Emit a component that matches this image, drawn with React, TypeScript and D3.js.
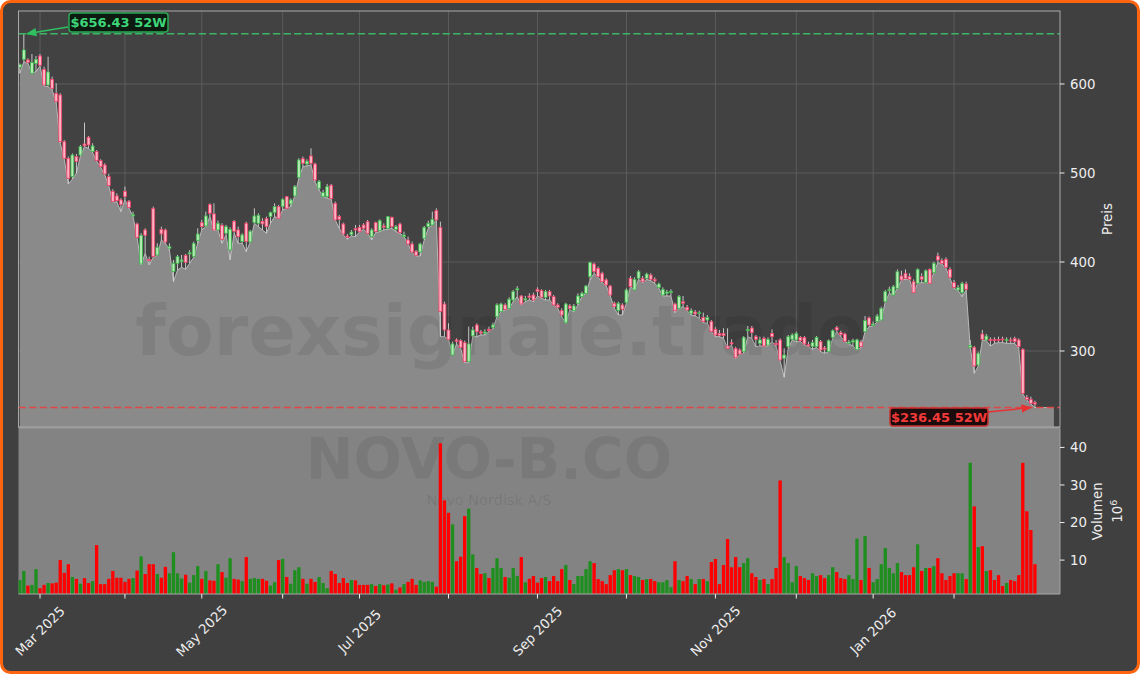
import React from "react";
import * as d3 from "d3";

const opens = [
618.8,627.7,627,612,623.2,631.5,616.5,598.9,605.3,589.5,
587.7,535.2,516.5,495.9,518.4,520.2,532.6,540.1,524,524,
513.9,509,495.9,479.4,474.2,469.7,479.4,468.2,451.7,442.7,
397.8,436,403,460.3,407.9,436.7,436,415.4,389.2,398.5,
400.4,407.5,409,406,424,444.2,440.5,464.4,454,436,
441.2,432.3,413.5,445.7,436,422.9,443.5,422.5,444.2,443.5,
445.7,448.7,451,455.5,462.2,462.2,473.4,465.2,474.2,495.1,
516.1,510.1,519.1,510.1,482.8,473.4,473.4,486.2,465.9,451,
442.7,429.2,430.7,437.5,439,441.6,445.3,428.5,444.2,435.2,
440.5,437.8,450.2,436.7,442.7,428.5,424.7,420.2,412,411.2,
426.6,439.7,441.6,457.7,439,352.8,323.6,295.5,312.4,311.6,
309.4,288,316.9,329.2,321.4,319.9,324.4,326.6,338.6,344.2,
351.7,348,357.3,368.6,361.8,357.3,361.8,362.9,369.3,367.8,
360.3,366.7,361.1,351.7,345.3,331.8,350.6,345.3,353.6,361.1,
364.8,383.5,397.8,392.9,387.3,379.8,373,353.6,345.3,351.7,
354.3,381.7,368.6,381.7,381.7,381.7,385.4,380.5,371.2,362.9,
364.8,365.6,352.8,348,355.4,349.1,342.3,343.8,342.3,337.8,
334.8,333,324.3,319.8,319.8,305.6,309.4,303,301.1,299.2,
322.8,325.8,316.1,308.6,314.2,306.7,319.8,308.6,312.4,291.8,
304.9,313.1,312.4,315.3,315.3,307.1,304.9,304.9,310.5,303.4,
299.2,315.3,326.2,320.6,319.1,308.6,310.1,301.9,310.1,321.7,
337.1,328.8,333,334.8,355.4,367.8,362.9,370.4,384.3,387.3,
383.5,377.9,376,383.5,376.8,391.7,388,406.7,401.5,403,
391.7,376.8,368.5,365.5,375.3,304.1,304.1,284.3,319.1,312.4,
313.1,313.1,313.1,313.5,311.6,312.4,314.2,312.4,301.9,247.9,
245.7,242
];

const highs = [
623,656.43,628.8,633.7,631.5,633.7,619.5,630.7,608.3,600.8,
589.5,537,518.4,522,521.4,531.5,556.6,541.6,533.4,525.8,
515.4,510.9,498.9,481.7,477.2,471.6,484.7,469.7,456.6,444.2,
432.3,437.9,406,462.2,421,439.7,437.5,421,402.3,407.9,
407.9,409,413.5,422.9,437.9,447.2,456.6,465.9,465.9,446.5,
443.5,441.6,439,447.2,439.7,432.3,445.3,436,460.3,454.7,
449.1,451,456.6,465.9,464.1,471.6,474.2,471.6,486.5,516.5,
518.4,515.4,527.7,511.6,492.2,481,487.7,487.7,467.8,452.8,
444.2,431.5,436,441.6,441.6,443.5,447.2,437.8,445.3,447.9,
443.4,451.7,450.9,441.6,444.2,434.1,428.5,422.9,413.5,421.7,
440.5,446.4,456.6,460.3,445.3,355.4,331.1,310.5,314.2,313.1,
311.6,327.4,327.4,331.1,323.6,324.4,327.4,331.8,353.6,354.3,
353.6,360.3,368.6,373,362.9,361.8,364.8,365.6,371.5,369.3,
368.6,368.6,362.9,353.6,348,354.3,352.8,352.8,364.8,366.7,
374.2,400.4,399.3,394.8,389.1,381.7,374.2,355.4,355.4,353.6,
370.4,384.3,382.8,391,384.3,388,387.3,382.8,376.8,371.5,
368.6,369.3,354.3,362.9,361.8,351.7,348,346.1,345.3,343.1,
340.4,334.8,326.6,323.6,325.5,325.5,313.1,304.9,303,316.8,
328.1,328.1,318,316.1,316.1,315.3,324.3,312.4,314.2,303,
318,319.8,321.7,316.8,316.8,310.5,312.4,316.8,312.4,305.6,
313.1,324.3,328.1,322.8,320.6,312.4,313.8,313.8,312.4,339.3,
338.6,333,341.6,349.8,368.5,372.3,374.1,391.7,390.2,391.7,
387.3,380.5,392.9,387.3,391.7,392.9,400.4,410.5,404.1,405.2,
394,379.8,374.1,377.9,377.9,312.4,305.6,299.2,323.6,319.1,
315.3,315.3,316.1,316.1,315.3,315.3,316.1,314.2,303,250.6,
248.7,244.2
];

const lows = [
612,625.1,623.2,612,613.9,620.2,597.8,597,593.3,579,
533.4,515.4,487.7,493,499.7,519.1,529.6,527.7,522.9,513.1,
506.4,498.2,485.4,467.4,467.4,456.6,469.7,460.3,451,427.7,
396.7,409.8,396.7,405.3,407.5,424.7,421,413.5,378,391,
394,391.8,398.5,405.3,421,436,439.7,451,435.2,436,
421,430.4,402.3,432.3,421,421,411.6,422.5,443.5,439.7,
436,432.3,443.5,451,449.1,458.5,460.3,462.2,474.2,494,
507.1,507.9,509,490.3,481,473.4,471.6,470.4,447.2,437.9,
430.4,425.5,429.2,428.5,433.7,436.7,432.2,424.7,433,434.1,
436,436.7,437.8,434.1,432.2,428.5,420.2,410.5,406.7,406.7,
424.7,437.8,441.6,447.2,316.1,316.1,313.1,295.5,307.9,303,
286.9,286.9,316.1,316.1,318,318,321.7,325,338.6,344.2,
346.1,348,355.4,361.1,351.7,355.4,357.3,355.4,361.8,359.2,
357.3,357.3,351.7,348,338.6,331.1,346.1,344.2,351.7,361.1,
364.8,379.8,387.3,382.8,376.8,373,361.8,348,340.5,340.5,
353.6,372.3,368.6,380.5,376.8,380.5,379,376,370.4,361.8,
361.8,361.8,343.1,348,349.8,345.3,340.5,339.3,336.7,331.8,
331.1,321.7,316.1,316.1,314.2,303,306.7,291.8,295.5,297.4,
316.1,314.2,304.9,305.6,305.6,305.6,310.5,304.9,289.1,270.4,
303,312.4,310.5,310.5,306.7,304.9,301.9,304.1,299.2,297.4,
299.2,314.2,321.7,316.1,310.5,307.9,305.6,301.1,304.1,321.7,
327.3,328.1,333,334.8,355.4,364.8,362.9,370.4,379.8,380.5,
380.5,365.5,376,376.8,376.8,376,388,399.2,397.7,392.9,
381.6,370.4,367.8,361,368.5,304.1,274.9,283.1,312.4,311.6,
305.6,308.6,309.4,309.4,308.6,308.6,308.6,303,251.7,244.9,
240.4,236.45
];

const closes = [
621.7,638.2,624.4,624,627.7,621,598.9,613.5,595.1,580.2,
535.2,516.5,494,520.2,512.8,529.6,530.4,531.5,530.4,513.9,
507.1,498.9,485.8,467.8,468.9,464.4,473.4,461.4,453.2,427.7,
430,430,401.5,406,416.5,431.5,422.5,417.3,398.5,406,
402.3,399.6,410.5,421,431.5,439.7,451.7,454.7,436,443.5,
425.5,439.7,436.7,434.5,428.5,430.4,422.9,434.5,451.7,452.5,
442.7,439.7,455.5,462.2,449.1,470.4,460.3,469.7,484.7,514.6,
510.9,513.1,510.9,492.2,490.3,477.9,484.7,471.2,447.2,448,
431.5,427.7,433.7,436,434,437.9,432.2,436,434.1,446.4,
439,450.9,439.7,439.7,433,430.3,420.2,411.2,407.5,420.2,
439,443.4,447.9,447.2,344.2,323.6,313.1,307.9,310.9,304.1,
288,307.9,323.6,321.7,319.9,321.4,322.9,329.2,351.7,352.8,
346.8,358.1,366.7,370.1,352.8,358.8,360.3,357.3,367.1,360.3,
366.7,361.8,351.7,349.1,340.5,352.8,348,350.6,361.8,364.8,
373,399.3,389.1,383.5,377.9,374.2,362.9,349.8,353.6,346.8,
368.6,372.3,380.5,389.1,377.9,386.5,380.5,378.7,375.3,369.3,
366.3,367.1,345.3,361.1,353.6,346.1,345.3,341.6,343.1,333,
337.8,321.7,318,317.6,317.2,303,307.9,292.9,296.6,315.3,
324.3,320.6,313.1,312.4,305.6,313.1,316.1,307.1,289.9,295.5,
316.1,318,319.8,311.6,307.9,305.6,309.4,315.3,301.1,301.9,
311.6,322.8,323.6,318.3,310.9,310.1,311.6,312.4,304.9,334.1,
329.2,330.3,339.3,347.9,366.7,369.3,372.3,389.1,379.8,381.6,
380.5,365.5,391.7,380.5,390.2,376,398.5,402.2,398.5,394,
382.8,371.5,371.1,376,369.3,306.3,283.1,297.4,313.1,316.8,
311.6,311.6,312.4,312.4,313.1,311.6,310.5,304.9,252.4,245.7,
241.2,240.4
];

// volume in millions
const volumes = [
4.7,7.1,3.2,3.4,7.6,2.5,3.4,3.9,3.8,4.0,
10.0,6.6,8.9,5.5,5.0,3.7,5.2,3.9,4.4,14.0,
3.6,3.6,5.0,7.1,5.3,5.3,4.2,5.0,5.2,7.2,
11.0,6.3,8.9,8.9,6.3,5.3,8.2,6.5,12.1,6.5,
5.1,6.1,4.0,6.0,8.4,5.0,7.1,4.6,4.5,8.9,
6.8,5.3,10.5,5.0,4.8,4.4,10.8,5.0,5.2,5.0,
5.0,4.5,3.2,4.1,10.0,10.3,5.5,3.7,7.3,8.1,
5.0,3.7,5.0,4.2,5.5,3.9,2.5,7.1,6.3,3.9,
5.2,3.9,4.7,4.6,3.4,3.4,3.4,3.6,3.1,3.6,
3.3,3.5,3.8,2.1,2.7,3.6,4.2,5.0,3.4,4.6,
4.2,4.4,4.2,2.9,41.1,25.9,22.6,19.5,9.7,10.9,
21.7,23.7,11.5,7.9,6.3,6.5,5.2,7.9,10.5,7.9,
5.5,5.3,7.9,5.8,10.8,4.1,5.0,5.75,4.0,5.2,
5.5,4.4,5.75,4.4,7.6,8.7,4.7,3.6,5.75,5.75,
7.6,9.7,9.2,4.95,4.4,3.6,6.0,7.3,7.6,7.3,
7.6,6.0,5.75,5.5,4.7,4.95,4.95,4.4,4.1,4.1,
4.7,2.8,9.7,4.7,4.4,5.75,4.95,3.6,4.95,4.95,
4.4,9.5,10.3,3.6,8.7,15.6,8.1,10.8,8.1,9.2,
10.5,6.5,5.5,4.7,4.95,3.6,4.95,7.9,31.2,10.8,
9.2,4.1,8.4,5.75,5.2,4.7,6.5,5.75,6.0,5.2,
6.0,8.1,6.8,5.2,4.95,6.0,4.95,15.7,4.7,16.4,
7.9,4.1,4.95,8.9,13.2,7.9,6.5,9.2,6.8,6.0,
6.0,8.1,14.2,7.1,7.9,7.9,8.4,10.5,6.5,4.7,
5.75,6.5,6.5,6.5,4.95,35.9,24.3,13.5,13.7,7.1,
7.3,4.7,6.0,3.1,3.9,4.7,4.4,6.0,35.9,23.0,
18.0,8.9
];

const monthTickIndex = [5, 26, 45, 65, 84, 106, 128, 150, 172, 192, 211, 231];
const monthTickLabels = ["Mar 2025", "", "May 2025", "", "Jul 2025", "", "Sep 2025", "", "Nov 2025", "", "Jan 2026", ""];
const priceTicks = [300, 400, 500, 600];
const volumeTicks = [10, 20, 30, 40];

const FONT = "DejaVu Sans, Verdana, sans-serif";

export default function App() {
  const W = 1140, H = 674;
  const left = 18.5, right = 1060;
  const pTop = 11, pBot = 427;
  const vTop = 428.5, vBot = 594;
  const n = closes.length;

  const x = d3.scaleLinear().domain([-0.32, 257.2]).range([left, right]);
  const yP = d3.scaleLinear().domain([214.6, 682]).range([pBot, pTop]);
  const yV = d3.scaleLinear().domain([0.97, 45.04]).range([vBot, vTop]);
  const step = x(1) - x(0);

  const fillPts: [number, number][] = lows.map((l, i) => [i, l] as [number, number]);
  fillPts.push([n - 1 + 4.7, lows[n - 1]]);
  const area = d3.area<[number, number]>().x(d => x(d[0])).y0(pBot).y1(d => yP(d[1]));
  const line = d3.line<[number, number]>().x(d => x(d[0])).y(d => yP(d[1]));

  const maxHigh = d3.max(highs) as number;
  const iMax = highs.indexOf(maxHigh);
  const minLow = d3.min(lows) as number;
  const iMin = lows.indexOf(minLow);

  const upFill = "#b4ecb4", upStroke = "#3bb54a";
  const dnFill = "#ffb3c4", dnStroke = "#ee3c64";
  const bw = step * 0.72;
  const vw = step * 0.82;

  return (
    <svg width={W} height={H} style={{ display: "block" }} xmlns="http://www.w3.org/2000/svg">
      <style>{`body{margin:0;}`}</style>
      <defs>
        <clipPath id="pclip"><rect x={left} y={pTop} width={right - left} height={pBot - pTop} /></clipPath>
        <clipPath id="vclip"><rect x={left} y={vTop} width={right - left} height={vBot - vTop} /></clipPath>
        <marker id="arrG" viewBox="0 0 10 10" refX="9" refY="5" markerWidth="7" markerHeight="7" orient="auto">
          <path d="M0,1 L10,5 L0,9 z" fill="#2fbf5f" />
        </marker>
        <marker id="arrR" viewBox="0 0 10 10" refX="9" refY="5" markerWidth="7" markerHeight="7" orient="auto">
          <path d="M0,1 L10,5 L0,9 z" fill="#e83232" />
        </marker>
      </defs>
      <rect x={1.5} y={1.5} width={W - 3} height={H - 3} rx={9} fill="#404040" stroke="#ff6410" strokeWidth={3} />

      {/* price panel */}
      <rect x={left} y={pTop} width={right - left} height={pBot - pTop} fill="#424242" />
      <g>
        {monthTickIndex.map((t, k) => (
          <line key={"vg" + k} x1={x(t)} x2={x(t)} y1={pTop} y2={pBot} stroke="#5f5f5f" strokeWidth={0.9} />
        ))}
        {priceTicks.map(t => (
          <line key={"hg" + t} x1={left} x2={right} y1={yP(t)} y2={yP(t)} stroke="#5f5f5f" strokeWidth={0.9} />
        ))}
      </g>
      <g clipPath="url(#pclip)">
        <path d={area(fillPts) || ""} fill="#8a8a8a" />
        <path d={line(fillPts) || ""} fill="none" stroke="#b9b9b9" strokeWidth={1} />
        <text x={500} y={355} textAnchor="middle" fontFamily={FONT} fontWeight="bold" fontSize={70} fill="#000" fillOpacity={0.08}>forexsignale.trade</text>
        {closes.map((c, i) => {
          const o = opens[i];
          const up = c >= o;
          const top = yP(Math.max(o, c));
          const bot = yP(Math.min(o, c));
          const cx = x(i);
          return (
            <g key={"c" + i}>
              <line x1={cx} x2={cx} y1={yP(highs[i])} y2={yP(lows[i])} stroke="#d6d6d6" strokeWidth={0.9} />
              <rect x={cx - bw / 2} y={top} width={bw} height={Math.max(1, bot - top)}
                fill={up ? upFill : dnFill} stroke={up ? upStroke : dnStroke} strokeWidth={0.8} />
            </g>
          );
        })}
        <line x1={left} x2={right} y1={yP(maxHigh)} y2={yP(maxHigh)} stroke="#3cb567" strokeWidth={1.5} strokeDasharray="7.4,3.2" />
        <line x1={left} x2={right} y1={yP(minLow)} y2={yP(minLow)} stroke="#e04848" strokeWidth={1.5} strokeDasharray="7.4,3.2" />
      </g>
      <rect x={left} y={pTop} width={right - left} height={pBot - pTop} fill="none" stroke="#a9a9a9" strokeWidth={1} />

      {/* volume panel */}
      <rect x={left} y={vTop} width={right - left} height={vBot - vTop} fill="#838383" />
      <g clipPath="url(#vclip)">
        <text x={489} y={479} textAnchor="middle" fontFamily={FONT} fontWeight="bold" fontSize={57} fill="#000" fillOpacity={0.07}>NOVO-B.CO</text>
        <text x={489} y={505} textAnchor="middle" fontFamily={FONT} fontSize={14.5} fill="#000" fillOpacity={0.09}>Novo Nordisk A/S</text>
        {volumes.map((v, i) => {
          const up = closes[i] >= opens[i];
          return (
            <rect key={"v" + i} x={x(i) - vw / 2} y={yV(v)} width={vw} height={vBot - yV(v)}
              fill={up ? "#1e8f1e" : "#ff0000"} />
          );
        })}
      </g>
      <line x1={left} x2={right} y1={427.8} y2={427.8} stroke="#9e9e9e" strokeWidth={2} />
      <line x1={left} x2={right} y1={vBot} y2={vBot} stroke="#a9a9a9" strokeWidth={1} />
      <line x1={right} x2={right} y1={vTop} y2={vBot} stroke="#a0a0a0" strokeWidth={1} />

      {/* right axes */}
      {priceTicks.map(t => (
        <g key={"pt" + t}>
          <line x1={right} x2={right + 4.5} y1={yP(t)} y2={yP(t)} stroke="#eeeeee" strokeWidth={1} />
          <text x={right + 10} y={yP(t)} dy="0.35em" fontFamily={FONT} fontSize={13.33} fill="#eeeeee">{t}</text>
        </g>
      ))}
      <text transform={`translate(1112,${(pTop + pBot) / 2}) rotate(-90)`} textAnchor="middle" dy="0" fontFamily={FONT} fontSize={13.33} fill="#eeeeee">Preis</text>
      {volumeTicks.map(t => (
        <g key={"vt" + t}>
          <line x1={right} x2={right + 4.5} y1={yV(t)} y2={yV(t)} stroke="#eeeeee" strokeWidth={1} />
          <text x={right + 10} y={yV(t)} dy="0.35em" fontFamily={FONT} fontSize={13.33} fill="#eeeeee">{t}</text>
        </g>
      ))}
      <text transform={`translate(1102,${(vTop + vBot) / 2}) rotate(-90)`} textAnchor="middle" fontFamily={FONT} fontSize={13.33} fill="#eeeeee">Volumen</text>
      <text transform={`translate(1122,${(vTop + vBot) / 2}) rotate(-90)`} textAnchor="middle" fontFamily={FONT} fontSize={13.33} fill="#eeeeee">
        10<tspan fontSize={9.5} dy="-5">6</tspan>
      </text>

      {/* x axis */}
      {monthTickIndex.map((t, k) => (
        <g key={"xt" + k}>
          <line x1={x(t)} x2={x(t)} y1={vBot} y2={vBot + 4.5} stroke="#eeeeee" strokeWidth={1} />
          {monthTickLabels[k] ? (
            <text transform={`translate(${x(t)},631) rotate(-45)`} textAnchor="middle" dy="0.35em" fontFamily={FONT} fontSize={13.33} fill="#eeeeee">{monthTickLabels[k]}</text>
          ) : null}
        </g>
      ))}

      {/* annotations */}
      <line x1={68} y1={27} x2={x(iMax) + 3} y2={yP(maxHigh)} stroke="#2fbf5f" strokeWidth={1.5} markerEnd="url(#arrG)" />
      <rect x={69} y={13} width={99} height={19} rx={3} fill="#0c1a10" stroke="#2aa955" strokeWidth={1.5} />
      <text x={118.5} y={27} textAnchor="middle" fontFamily={FONT} fontWeight="bold" fontSize={13} fill="#3fd67a">{`$${maxHigh.toFixed(2)} 52W`}</text>

      <line x1={988} y1={412} x2={x(iMin) - 4} y2={yP(minLow)} stroke="#e83232" strokeWidth={1.5} markerEnd="url(#arrR)" />
      <rect x={890} y={408} width={98} height={18} rx={3} fill="#1c0b0b" stroke="#c83030" strokeWidth={1.5} />
      <text x={939} y={421.5} textAnchor="middle" fontFamily={FONT} fontWeight="bold" fontSize={13} fill="#f23a3a">{`$${minLow.toFixed(2)} 52W`}</text>
    </svg>
  );
}
